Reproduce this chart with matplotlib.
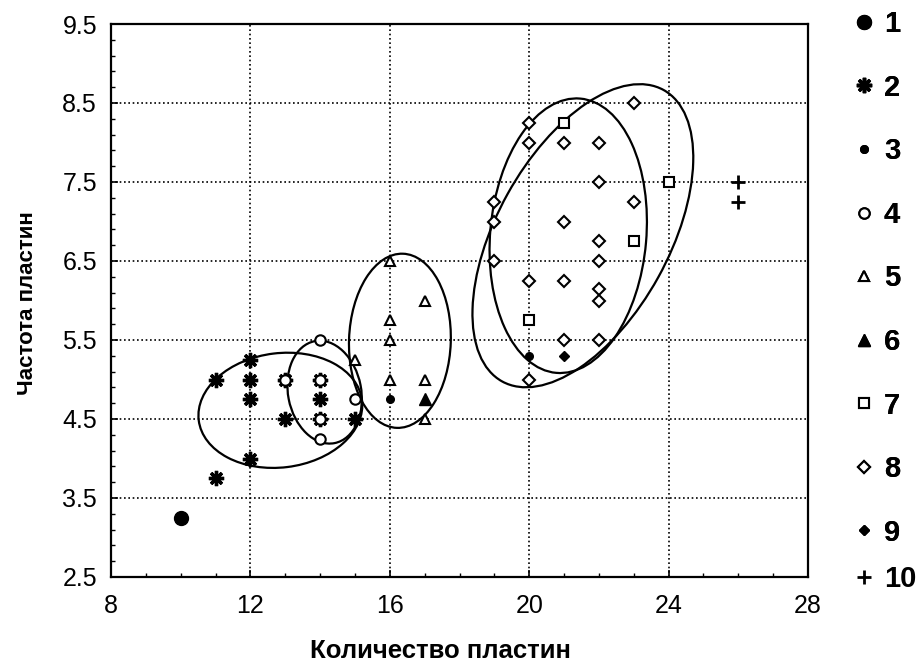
import numpy as np
import matplotlib
matplotlib.use("Agg")
import matplotlib.pyplot as plt
from matplotlib.patches import Ellipse
from matplotlib.transforms import Affine2D
from matplotlib.ticker import MultipleLocator, AutoMinorLocator

plt.rcParams['font.family'] = ['Liberation Sans', 'DejaVu Sans']

# данные по группам (количество пластин, частота пластин)
g1_x = [10]
g1_y = [3.25]
g2_x = [11, 11, 12, 12, 12, 12, 13, 13, 14, 14, 14, 15]
g2_y = [5.0, 3.75, 5.25, 5.0, 4.75, 4.0, 5.0, 4.5, 5.0, 4.75, 4.5, 4.5]
g3_x = [16, 20]
g3_y = [4.75, 5.3]
g4_x = [13, 14, 14, 14, 14, 15]
g4_y = [5.0, 5.5, 5.0, 4.5, 4.25, 4.75]
g5_x = [15, 16, 16, 16, 16, 17, 17, 17]
g5_y = [5.25, 6.5, 5.75, 5.5, 5.0, 6.0, 5.0, 4.5]
g6_x = [17]
g6_y = [4.75]
g7_x = [20, 21, 23, 24]
g7_y = [5.75, 8.25, 6.75, 7.5]
g8_x = [19, 19, 19, 20, 20, 20, 20, 21, 21, 21, 21, 22, 22, 22, 22, 22, 22, 22, 23, 23]
g8_y = [7.25, 7.0, 6.5, 8.25, 8.0, 6.25, 5.0, 8.0, 7.0, 6.25, 5.5,
        8.0, 7.5, 6.75, 6.5, 6.15, 6.0, 5.5, 8.5, 7.25]
g9_x = [21]
g9_y = [5.3]
g10_x = [26, 26]
g10_y = [7.5, 7.25]

labels = ['1', '2', '3', '4', '5', '6', '7', '8', '9', '10']

# эллипсы: центр x, центр y, полуоси (в единицах оси x), угол (град)
ell_cx = [12.86, 14.13, 16.29, 21.12, 21.54]
ell_cy = [4.61, 4.84, 5.49, 6.82, 6.82]
ell_a = [2.36, 1.49, 2.50, 3.95, 4.78]
ell_b = [1.64, 1.05, 1.46, 2.24, 2.47]
ell_ang = [7, 101, 88, 85, 61]

fig = plt.figure(figsize=(9.18, 6.66), dpi=100)
ax = fig.add_axes([111/918, 89/666, 697/918, 553/666])
ax.set_xlim(8, 28)
ax.set_ylim(2.5, 9.5)

# соотношение масштабов осей (пиксели на единицу y / на единицу x)
k = (553/7) / (697/20)
tr = Affine2D().scale(1, 1/k) + ax.transData
for cx, cy, a, b, ang in zip(ell_cx, ell_cy, ell_a, ell_b, ell_ang):
    e = Ellipse((cx, cy*k), 2*a, 2*b, angle=ang, transform=tr,
                fill=False, ec='black', lw=1.6, zorder=3)
    ax.add_patch(e)

h = []
h += ax.plot(g1_x, g1_y, 'o', color='black', ms=10, zorder=4)
h += ax.plot(g2_x, g2_y, marker=(8, 2, 0), ls='none', color='black', ms=11, mew=2.4, zorder=4)
h += ax.plot(g3_x, g3_y, 'o', color='black', ms=5.5, zorder=5)
h += ax.plot(g4_x, g4_y, 'o', mfc='white', mec='black', ms=7.5, mew=1.5, zorder=5)
h += ax.plot(g5_x, g5_y, '^', mfc='white', mec='black', ms=7.5, mew=1.5, zorder=5)
h += ax.plot(g6_x, g6_y, '^', color='black', ms=9, zorder=5)
h += ax.plot(g7_x, g7_y, 's', mfc='white', mec='black', ms=7, mew=1.5, zorder=5)
h += ax.plot(g8_x, g8_y, 'D', mfc='white', mec='black', ms=6.5, mew=1.5, zorder=5)
h += ax.plot(g9_x, g9_y, 'D', color='black', ms=5, zorder=5)
h += ax.plot(g10_x, g10_y, '+', color='black', ms=10, mew=2, zorder=5)

ax.xaxis.set_major_locator(MultipleLocator(4))
ax.yaxis.set_major_locator(MultipleLocator(1))
ax.xaxis.set_minor_locator(AutoMinorLocator(4))
ax.yaxis.set_minor_locator(AutoMinorLocator(5))
ax.set_xticks([8, 12, 16, 20, 24, 28])
ax.set_yticks([2.5, 3.5, 4.5, 5.5, 6.5, 7.5, 8.5, 9.5])
ax.tick_params(which='both', direction='in', labelsize=18, color='black')
ax.tick_params(which='major', length=5, width=1.2)
ax.tick_params(which='minor', length=3, width=1)
ax.tick_params(axis='y', pad=10)
ax.tick_params(axis='x', pad=12)
ax.grid(True, which='major', color='black', ls=(0, (1, 1.6)), lw=1.2)
for s in ax.spines.values():
    s.set_linewidth(1.6)

ax.set_xlabel('Количество пластин', fontsize=18.5, fontweight='bold')
ax.set_ylabel('Частота пластин', fontsize=16, fontweight='bold')
ax.xaxis.set_label_coords(0.473, -0.112)
ax.yaxis.set_label_coords(-0.105, 0.495)

leg1 = fig.legend(h[:9], labels[:9], loc='upper left', bbox_to_anchor=(849/918, 1 - 10/666),
                  frameon=False, borderpad=0, borderaxespad=0, handlelength=1.0,
                  handletextpad=0.2, labelspacing=1.22, prop={'size': 21, 'weight': 'bold'})
fig.legend(h[9:], labels[9:], loc='upper left', bbox_to_anchor=(849/918, 1 - 565/666),
           frameon=False, borderpad=0, borderaxespad=0, handlelength=1.0,
           handletextpad=0.2, prop={'size': 21, 'weight': 'bold'})
fig.add_artist(leg1)

fig.savefig('out.png', dpi=100)
